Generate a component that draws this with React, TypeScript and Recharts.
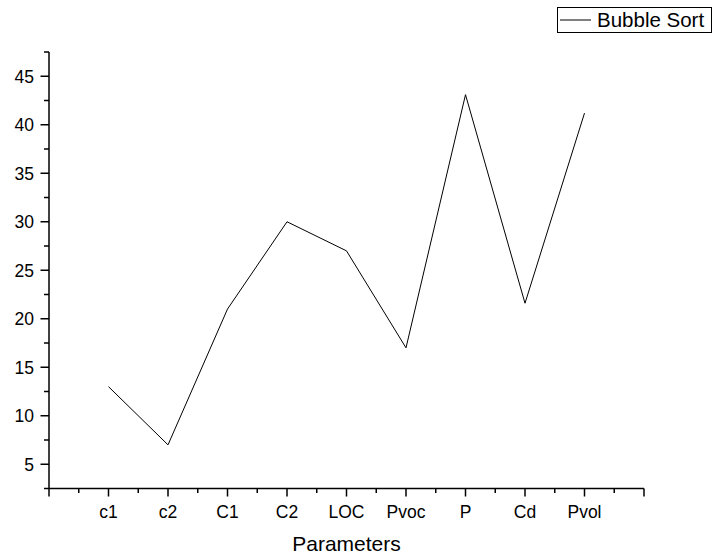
import React from 'react';
import { LineChart, Line, XAxis, YAxis, Legend } from 'recharts';

const categories = ['c1', 'c2', 'C1', 'C2', 'LOC', 'Pvoc', 'P', 'Cd', 'Pvol'];
const categoryPositions = [1, 2, 3, 4, 5, 6, 7, 8, 9];
const bubbleSort = [13, 7, 21, 30, 27, 17, 43.1, 21.6, 41.2];
const xTicks = [0, 0.5, 1, 1.5, 2, 2.5, 3, 3.5, 4, 4.5, 5, 5.5, 6, 6.5, 7, 7.5, 8, 8.5, 9, 9.5, 10];
const yTicks = [2.5, 5, 7.5, 10, 12.5, 15, 17.5, 20, 22.5, 25, 27.5, 30, 32.5, 35, 37.5, 40, 42.5, 45, 47.5];
const seriesName = 'Bubble Sort';
const xTitle = 'Parameters';

const data = categories.map((c, i) => ({ pos: categoryPositions[i], name: c, value: bubbleSort[i] }));

const FONT = '"Liberation Sans", Arial, sans-serif';

function XTick(props: any) {
  const { x, y, payload } = props;
  const v = payload.value;
  const major = Number.isInteger(v);
  const idx = categoryPositions.indexOf(v);
  const label = idx >= 0 ? categories[idx] : '';
  return (
    <g>
      <line x1={x} y1={y} x2={x} y2={y + (major ? 8 : 4.5)} stroke="#000" strokeWidth={1.5} />
      {label && (
        <text x={x} y={y + 29} textAnchor="middle" fontSize={17.5} fontFamily={FONT} fill="#000">
          {label}
        </text>
      )}
    </g>
  );
}

function YTick(props: any) {
  const { x, y, payload } = props;
  const v = payload.value;
  const major = v % 5 === 0;
  return (
    <g>
      <line x1={x - (major ? 8.5 : 5)} y1={y} x2={x} y2={y} stroke="#000" strokeWidth={1.5} />
      {major && (
        <text x={x - 15} y={y + 6.3} textAnchor="end" fontSize={17.5} fontFamily={FONT} fill="#000">
          {v}
        </text>
      )}
    </g>
  );
}

function XTitle(props: any) {
  const { viewBox } = props;
  return (
    <text x={viewBox.x + viewBox.width / 2} y={viewBox.y + 62.5} textAnchor="middle" fontSize={21} fontFamily={FONT} fill="#000">
      {xTitle}
    </text>
  );
}

function LegendBox() {
  return (
    <svg width={156} height={27} style={{ display: 'block' }}>
      <rect x={0.5} y={0.5} width={154} height={25} fill="#fff" stroke="#000" strokeWidth={1} />
      <line x1={3} y1={13} x2={34} y2={13} stroke="#000" strokeWidth={1} />
      <text x={40} y={20.3} fontSize={20.5} fontFamily={FONT} fill="#000">
        {seriesName}
      </text>
    </svg>
  );
}

export default function App() {
  return (
    <div style={{ position: 'absolute', left: 0, top: 0, width: 715, height: 559, background: '#fff' }}>
      <LineChart width={715} height={559} data={data} margin={{ top: 52, right: 71, bottom: 10.5, left: 9 }}>
        <XAxis
          dataKey="pos"
          type="number"
          domain={[0, 10]}
          ticks={xTicks}
          interval={0}
          tickSize={0}
          tickMargin={0}
          tickLine={false}
          tick={<XTick />}
          axisLine={{ stroke: '#000', strokeWidth: 1.5 }}
          height={60}
          label={<XTitle />}
          allowDataOverflow
        />
        <YAxis
          type="number"
          domain={[2.5, 47.5]}
          ticks={yTicks}
          interval={0}
          tickSize={0}
          tickMargin={0}
          tickLine={false}
          tick={<YTick />}
          axisLine={{ stroke: '#000', strokeWidth: 1.5 }}
          width={40}
          allowDataOverflow
        />
        <Legend
          layout="horizontal"
          verticalAlign="middle"
          align="center"
          wrapperStyle={{ position: 'absolute', left: 557, top: 7, width: 156, height: 27 }}
          content={() => <LegendBox />}
        />
        <Line
          type="linear"
          dataKey="value"
          name={seriesName}
          stroke="#000"
          strokeWidth={1}
          dot={false}
          activeDot={false}
          isAnimationActive={false}
        />
      </LineChart>
    </div>
  );
}
